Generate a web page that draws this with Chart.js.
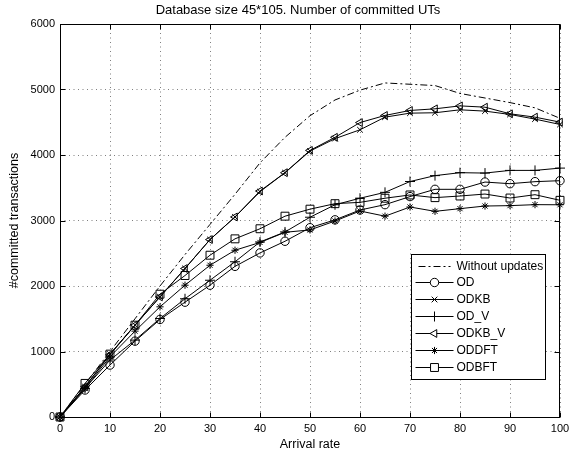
<!DOCTYPE html>
<html>
<head>
<meta charset="utf-8">
<script src="https://cdn.jsdelivr.net/npm/chart.js@4/dist/chart.umd.min.js"></script>
<style>html,body{margin:0;padding:0;background:#fff}canvas{display:block}</style>
</head>
<body>
<canvas id="c" width="569" height="457"></canvas>
<script>
const titleText = 'Database size 45*105. Number of committed UTs';
const xTitle = 'Arrival rate';
const yTitle = '#committed transactions';

const arrivalRates = [0,5,10,15,20,25,30,35,40,45,50,55,60,65,70,75,80,85,90,95,100];
const withoutUpdates = [0,500,1000,1500,2000,2480,2940,3400,3880,4270,4600,4840,4990,5100,5080,5060,4940,4870,4800,4720,4560];
const od     = [0,412,793,1158,1489,1753,2012,2300,2505,2683,2890,3010,3160,3242,3365,3476,3476,3587,3562,3593,3608];
const odkb   = [0,462,960,1402,1834,2267,2709,3054,3440,3730,4060,4250,4385,4578,4639,4645,4690,4670,4619,4548,4466];
const od_v   = [0,437,870,1174,1504,1805,2088,2370,2672,2825,3050,3240,3340,3430,3595,3685,3730,3724,3765,3765,3800];
const odkb_v = [0,462,950,1402,1834,2267,2709,3054,3450,3730,4070,4270,4495,4604,4680,4705,4750,4730,4629,4578,4502];
const oddft  = [0,437,920,1311,1682,2012,2317,2546,2665,2820,2856,2992,3145,3066,3206,3140,3181,3221,3227,3242,3240];
const odbft  = [0,513,960,1402,1875,2160,2470,2720,2874,3066,3173,3257,3277,3340,3390,3349,3374,3404,3343,3394,3308];

const xTicks = [0,10,20,30,40,50,60,70,80,90,100];
const yTicks = [0,1000,2000,3000,4000,5000,6000];

const FONT = '"Liberation Sans", Arial, Helvetica, sans-serif';

function pts(vals){ return arrivalRates.map((x,i)=>({x:x, y:vals[i]})); }

const seriesDefs = [
  {label:'Without updates', data:withoutUpdates, style:false, radius:0, dash:[7,3,2,3]},
  {label:'OD', data:od, style:'circle', radius:4.2},
  {label:'ODKB', data:odkb, style:'crossRot', radius:4},
  {label:'OD_V', data:od_v, style:'cross', radius:5},
  {label:'ODKB_V', data:odkb_v, style:'triangle', radius:4.5, rot:-90},
  {label:'ODDFT', data:oddft, style:'star', radius:3.6},
  {label:'ODBFT', data:odbft, style:'rect', radius:5.6}
];

const datasets = seriesDefs.map(s=>({
  label:s.label,
  data:pts(s.data),
  borderColor:'#000',
  borderWidth:1,
  borderDash:s.dash||[],
  backgroundColor:'rgba(0,0,0,0)',
  pointStyle:s.style,
  pointRadius:s.radius,
  pointRotation:s.rot||0,
  pointBorderColor:'#000',
  pointBackgroundColor:'rgba(0,0,0,0)',
  pointBorderWidth:1,
  tension:0,
  clip:false
}));

function drawMarker(ctx, s, x, y){
  if(!s.style) return;
  ctx.save();
  ctx.setLineDash([]);
  ctx.fillStyle = '#fff';
  ctx.strokeStyle = '#000';
  ctx.lineWidth = 1;
  if (Chart.helpers && Chart.helpers.drawPoint) {
    Chart.helpers.drawPoint(ctx, {pointStyle:s.style, radius:s.radius, rotation:s.rot||0, borderWidth:1}, x, y);
  } else {
    ctx.beginPath(); ctx.arc(x,y,s.radius,0,Math.PI*2); ctx.fill(); ctx.stroke();
  }
  ctx.restore();
}

const decor = {
  id:'decor',
  afterDraw(chart){
    const ctx = chart.ctx, a = chart.chartArea, xs = chart.scales.x, ys = chart.scales.y;
    ctx.save();
    ctx.setLineDash([]);
    ctx.strokeStyle = '#000';
    ctx.lineWidth = 1;
    const L = Math.round(a.left)+0.5, R = Math.round(a.right)-0.5, T = Math.round(a.top)+0.5, B = Math.round(a.bottom)+0.5;
    ctx.strokeRect(L, T, R-L, B-T);
    const tl = 5;
    ctx.beginPath();
    xTicks.forEach(v=>{
      const px = Math.round(xs.getPixelForValue(v))+0.5;
      ctx.moveTo(px,B); ctx.lineTo(px,B-tl);
      ctx.moveTo(px,T); ctx.lineTo(px,T+tl);
    });
    yTicks.forEach(v=>{
      const py = Math.round(ys.getPixelForValue(v))+0.5;
      ctx.moveTo(L,py); ctx.lineTo(L+tl,py);
      ctx.moveTo(R,py); ctx.lineTo(R-tl,py);
    });
    ctx.stroke();

    // title
    ctx.fillStyle = '#000';
    ctx.font = '13px ' + FONT;
    ctx.textAlign = 'center';
    ctx.textBaseline = 'middle';
    ctx.fillText(titleText, (a.left+a.right)/2 - 12, 10);

    // legend
    const bw = 134, bh = 125;
    const bx = Math.round(a.right - 149) + 0.5, by = Math.round(a.bottom - 163) + 0.5;
    ctx.fillStyle = '#fff';
    ctx.fillRect(bx, by, bw, bh);
    ctx.strokeRect(bx, by, bw, bh);
    ctx.font = '12px ' + FONT;
    ctx.textAlign = 'left';
    seriesDefs.forEach((s,i)=>{
      const yy = Math.round(by + 11 + i*16.9) + 0.5;
      ctx.beginPath();
      ctx.setLineDash(s.dash||[]);
      if (s.dash) { ctx.moveTo(bx+7, yy); ctx.lineTo(bx+39, yy); }
      else { ctx.moveTo(bx+4, yy); ctx.lineTo(bx+42, yy); }
      ctx.stroke();
      ctx.setLineDash([]);
      drawMarker(ctx, s, bx+23, yy);
      ctx.fillStyle = '#000';
      ctx.fillText(s.label, bx+45, yy);
    });
    ctx.restore();
  }
};

new Chart(document.getElementById('c'), {
  type:'line',
  data:{datasets:datasets},
  options:{
    responsive:false,
    animation:false,
    devicePixelRatio:1,
    layout:{padding:{top:24, right:9, left:0, bottom:0}},
    plugins:{legend:{display:false}, title:{display:false}, tooltip:{enabled:false}},
    scales:{
      x:{
        type:'linear', min:0, max:100,
        afterBuildTicks(s){ s.ticks = xTicks.map(v=>({value:v})); },
        afterFit(s){ s.height = 40; s.paddingLeft = 0; s.paddingRight = 0; },
        grid:{color:'rgba(0,0,0,0.5)', lineWidth:1, drawTicks:false},
        border:{display:false, dash:[1,3.5]},
        ticks:{color:'#000', padding:5, maxRotation:0, font:{size:11, family:FONT}, callback:v=>String(v)},
        title:{display:true, text:xTitle, color:'#000', font:{size:12.5, family:FONT}, padding:{top:0, bottom:5}}
      },
      y:{
        type:'linear', min:0, max:6000,
        afterBuildTicks(s){ s.ticks = yTicks.map(v=>({value:v})); },
        afterFit(s){ s.width = 60; },
        grid:{color:'rgba(0,0,0,0.5)', lineWidth:1, drawTicks:false},
        border:{display:false, dash:[1,3.5]},
        ticks:{color:'#000', padding:5, font:{size:11, family:FONT}, callback:v=>String(v)},
        title:{display:true, text:yTitle, color:'#000', font:{size:12.5, family:FONT}, padding:{top:7, bottom:0}}
      }
    }
  },
  plugins:[decor]
});
</script>
</body>
</html>
